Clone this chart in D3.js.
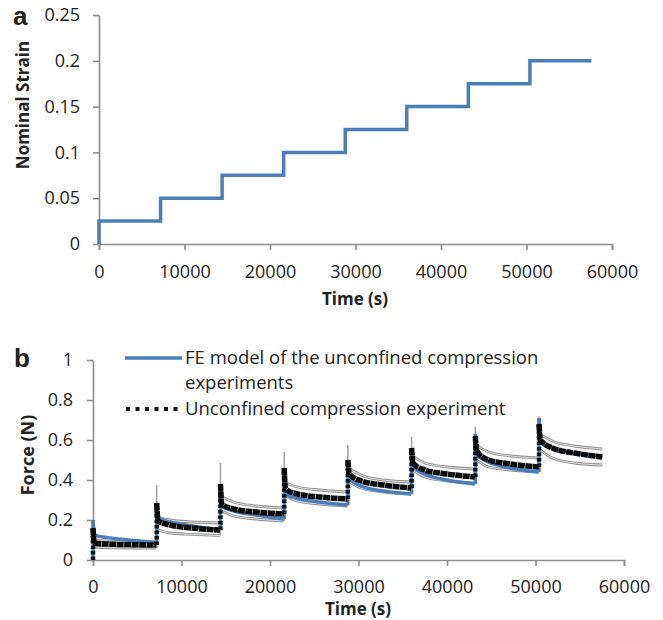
<!DOCTYPE html>
<html>
<head>
<meta charset="utf-8">
<script src="https://cdn.jsdelivr.net/npm/d3@7"></script>
<style>
  body { margin: 0; background: #fff; }
  text { font-family: "Open Sans", sans-serif; fill: #222; }
</style>
</head>
<body>
<div id="chart"></div>
<script>
// chart values
const stepTimes = [0, 7200, 14400, 21600, 28800, 36000, 43200, 50400];
const endTime = 57600;
const strainLevels = [0.025, 0.05, 0.075, 0.1, 0.125, 0.15, 0.175, 0.2];

const xTicks = [0, 10000, 20000, 30000, 40000, 50000, 60000];
const strainTicks = [0, 0.05, 0.1, 0.15, 0.2, 0.25];
const forceTicks = [0, 0.2, 0.4, 0.6, 0.8, 1];

// time after each step (s) where the relaxation curves are read
const offsets = [150, 1500, 4000, 7150];

// per step: [peak, value at each offset]
const feModel = [
  [0.20, 0.125, 0.113, 0.100, 0.088],
  [0.28, 0.210, 0.190, 0.170, 0.150],
  [0.37, 0.270, 0.245, 0.225, 0.205],
  [0.45, 0.330, 0.308, 0.290, 0.275],
  [0.50, 0.410, 0.370, 0.345, 0.330],
  [0.56, 0.470, 0.430, 0.400, 0.380],
  [0.63, 0.530, 0.490, 0.460, 0.440],
  [0.71, 0.590, 0.560, 0.535, 0.520]
];
const expMean = [
  [0.16, 0.085, 0.080, 0.077, 0.075],
  [0.285, 0.195, 0.175, 0.160, 0.150],
  [0.38, 0.280, 0.255, 0.240, 0.230],
  [0.46, 0.355, 0.330, 0.315, 0.305],
  [0.50, 0.430, 0.395, 0.375, 0.360],
  [0.56, 0.485, 0.450, 0.430, 0.415],
  [0.62, 0.545, 0.500, 0.480, 0.465],
  [0.68, 0.600, 0.560, 0.535, 0.515]
];
const expUpper = [
  [0.20, 0.100, 0.095, 0.092, 0.090],
  [0.375, 0.215, 0.200, 0.190, 0.185],
  [0.485, 0.320, 0.290, 0.270, 0.260],
  [0.54, 0.390, 0.365, 0.350, 0.340],
  [0.575, 0.460, 0.425, 0.400, 0.390],
  [0.615, 0.520, 0.485, 0.465, 0.455],
  [0.667, 0.575, 0.540, 0.520, 0.510],
  [0.717, 0.630, 0.595, 0.570, 0.555]
];
const expLower = [
  [0.00, 0.065, 0.062, 0.060, 0.060],
  [0.15, 0.150, 0.135, 0.128, 0.122],
  [0.245, 0.245, 0.220, 0.205, 0.195],
  [0.32, 0.320, 0.295, 0.280, 0.270],
  [0.39, 0.390, 0.360, 0.340, 0.330],
  [0.45, 0.450, 0.415, 0.395, 0.385],
  [0.50, 0.500, 0.465, 0.450, 0.440],
  [0.55, 0.550, 0.510, 0.485, 0.475]
];

const blue = "#4a7ebb";
const axisGray = "#8c8c8c";

let svg = d3.select("#chart")
    .append("svg")
    .attr("width", 663)
    .attr("height", 620);

// ---------- panel a ----------
let xA = d3.scaleLinear().domain([0, 60000]).range([99, 612]);
let yA = d3.scaleLinear().domain([0, 0.25]).range([244, 15]);

function styleAxis(g) {
    g.selectAll("path, line").attr("stroke", axisGray).attr("stroke-width", 1.6);
    g.selectAll("text").style("font-size", "18px").attr("fill", "#222")
        .style("font-family", "'Open Sans', sans-serif");
}

svg.append("g")
    .attr("transform", `translate(0,${yA(0)})`)
    .call(d3.axisBottom(xA).tickValues(xTicks).tickFormat(d => d).tickSize(6).tickPadding(15).tickSizeOuter(6))
    .call(styleAxis);

svg.append("g")
    .attr("transform", `translate(${xA(0)},0)`)
    .call(d3.axisLeft(yA).tickValues(strainTicks).tickFormat(d => d).tickSize(6).tickPadding(13).tickSizeOuter(0))
    .call(styleAxis);

let strainPts = [[0, 0]].concat(stepTimes.map((t, i) => [t, strainLevels[i]]));
strainPts.push([endTime, strainLevels[strainLevels.length - 1]]);

svg.append("path")
    .datum(strainPts)
    .attr("fill", "none")
    .attr("stroke", blue)
    .attr("stroke-width", 3.5)
    .attr("d", d3.line().x(d => xA(d[0])).y(d => yA(d[1])).curve(d3.curveStepAfter));

svg.append("text")
    .attr("x", 355).attr("y", 305)
    .attr("text-anchor", "middle")
    .style("font-size", "17px").style("font-weight", "bold")
    .text("Time (s)");

svg.append("text")
    .attr("transform", "translate(29,105) rotate(-90)")
    .attr("text-anchor", "middle")
    .style("font-size", "17px").style("font-weight", "bold")
    .text("Nominal Strain");

svg.append("text")
    .attr("x", 13).attr("y", 25)
    .style("font-family", "'Liberation Sans', Arial, sans-serif")
    .style("font-size", "26px").style("font-weight", "bold")
    .text("a");

// ---------- panel b ----------
let xB = d3.scaleLinear().domain([0, 60000]).range([93, 624]);
let yB = d3.scaleLinear().domain([0, 1]).range([560, 360]);

svg.append("g")
    .attr("transform", `translate(0,${yB(0)})`)
    .call(d3.axisBottom(xB).tickValues(xTicks).tickFormat(d => d).tickSize(6).tickPadding(14).tickSizeOuter(6))
    .call(styleAxis);

svg.append("g")
    .attr("transform", `translate(${xB(0)},0)`)
    .call(d3.axisLeft(yB).tickValues(forceTicks).tickFormat(d => d).tickSize(6).tickPadding(14).tickSizeOuter(0))
    .call(styleAxis);

let relax = d3.line().x(d => xB(d[0])).y(d => yB(d[1])).curve(d3.curveMonotoneX);

// relaxation points of one step, starting from the peak
function stepPoints(rows, i) {
    let t0 = stepTimes[i];
    let pts = [[t0, rows[i][0]]];
    offsets.forEach((o, k) => pts.push([t0 + o, rows[i][k + 1]]));
    return pts;
}
function prevEnd(rows, i) {
    return i === 0 ? 0 : rows[i - 1][rows[i - 1].length - 1];
}

let plotB = svg.append("g");

// experiment +/- sd (grey)
function greyLine(sel) {
    sel.attr("fill", "none").attr("stroke", "#8f8f8f").attr("stroke-width", 2.8);
}
function greyInner(sel) {
    sel.attr("fill", "none").attr("stroke", "#e2e2e2").attr("stroke-width", 1);
}
stepTimes.forEach((t0, i) => {
    let up = stepPoints(expUpper, i).slice(1);
    up.unshift([t0 + 20, expUpper[i][1] + 0.005]);
    let lo = stepPoints(expLower, i).slice(1);
    [up, lo].forEach(pts => {
        plotB.append("path").datum(pts).call(greyLine).attr("d", relax);
        plotB.append("path").datum(pts).call(greyInner).attr("d", relax);
    });
    // error bar spike at the step
    plotB.append("line")
        .attr("x1", xB(t0)).attr("x2", xB(t0))
        .attr("y1", yB(prevEnd(expLower, i))).attr("y2", yB(expUpper[i][0]))
        .attr("stroke", "#a0a0a0").attr("stroke-width", 1.5);
});

// FE model (blue)
stepTimes.forEach((t0, i) => {
    plotB.append("line")
        .attr("x1", xB(t0)).attr("x2", xB(t0))
        .attr("y1", yB(prevEnd(feModel, i))).attr("y2", yB(feModel[i][0]))
        .attr("stroke", blue).attr("stroke-width", 3.5);
    plotB.append("path").datum(stepPoints(feModel, i))
        .attr("fill", "none").attr("stroke", blue).attr("stroke-width", 3.5)
        .attr("d", relax);
});

// experiment mean (dense black markers)
stepTimes.forEach((t0, i) => {
    plotB.append("line")
        .attr("x1", xB(t0)).attr("x2", xB(t0))
        .attr("y1", yB(prevEnd(expMean, i))).attr("y2", yB(expMean[i][0]))
        .attr("stroke", "#111").attr("stroke-width", 4.5)
        .attr("stroke-dasharray", "3.5 2");
    plotB.append("path").datum(stepPoints(expMean, i))
        .attr("fill", "none").attr("stroke", "#0a0a0a").attr("stroke-width", 5.5)
        .attr("stroke-dasharray", "7 0.5")
        .attr("d", relax);
});

svg.append("text")
    .attr("x", 358).attr("y", 615)
    .attr("text-anchor", "middle")
    .style("font-size", "17px").style("font-weight", "bold")
    .text("Time (s)");

svg.append("text")
    .attr("transform", "translate(34,455) rotate(-90)")
    .attr("text-anchor", "middle")
    .style("font-size", "18px").style("font-weight", "bold")
    .text("Force (N)");

svg.append("text")
    .attr("x", 14).attr("y", 367)
    .style("font-family", "'Liberation Sans', Arial, sans-serif")
    .style("font-size", "26px").style("font-weight", "bold")
    .text("b");

// legend
let legend = svg.append("g");
legend.append("line")
    .attr("x1", 125).attr("x2", 182).attr("y1", 358).attr("y2", 358)
    .attr("stroke", blue).attr("stroke-width", 3.5);
legend.append("text").attr("x", 185).attr("y", 364).style("font-size", "18.5px")
    .text("FE model of the unconfined compression");
legend.append("text").attr("x", 185).attr("y", 389).style("font-size", "18.5px")
    .text("experiments");
legend.append("line")
    .attr("x1", 126).attr("x2", 182).attr("y1", 409).attr("y2", 409)
    .attr("stroke", "#111").attr("stroke-width", 4)
    .attr("stroke-dasharray", "4 5.5");
legend.append("text").attr("x", 185).attr("y", 415).style("font-size", "18.5px")
    .text("Unconfined compression experiment");
</script>
</body>
</html>
